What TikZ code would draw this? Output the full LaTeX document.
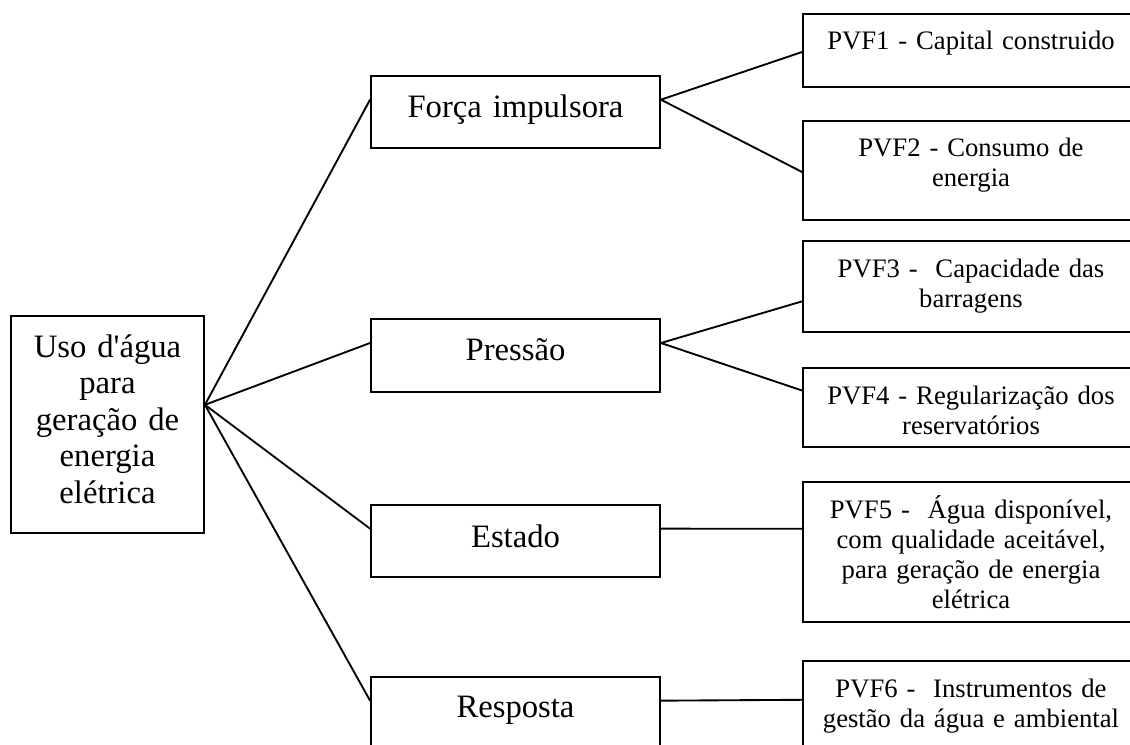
\documentclass[tikz,border=0pt]{standalone}
\usepackage{fontspec}
\setmainfont{Liberation Serif}[Ligatures=TeXOff]
\usetikzlibrary{calc,fit}
\begin{document}
\begin{tikzpicture}[x=0.75pt,y=-0.75pt,
  box/.style={draw, line width=1.4pt, rectangle, inner sep=0pt},
  conn/.style={line width=1.4pt},
  big/.style={font=\fontsize{24.5}{27.4}\selectfont, inner sep=0pt, align=center, text width=150pt, anchor=base},
  mid/.style={big, text width=210pt},
  small/.style={font=\fontsize{20}{22.5}\selectfont, inner sep=0pt, align=center, text width=247.5pt, anchor=base}]
\useasboundingbox (0,0) rectangle (1130,745);
\clip (0,0) rectangle (1130,745);
% boxes
\node[box, fit={(11,316) (204,533)}] (root) {};
\node[box, fit={(371,76) (660,148)}] (forca) {};
\node[box, fit={(371,319) (660,392)}] (pressao) {};
\node[box, fit={(371,505) (660,577)}] (estado) {};
\node[box, fit={(371,677) (660,749)}] (resposta) {};
\node[box, fit={(803,14) (1139,87)}] (p1) {};
\node[box, fit={(803,121) (1139,220)}] (p2) {};
\node[box, fit={(803,241) (1139,332)}] (p3) {};
\node[box, fit={(803,368) (1139,447)}] (p4) {};
\node[box, fit={(803,482) (1139,622)}] (p5) {};
\node[box, fit={(803,661) (1139,761)}] (p6) {};
% texts
\node[big] (troot) at (107.5,357) {Uso d'água\\para\\geração de\\energia\\elétrica};
\node[mid] (tforca) at (515.5,118) {Força impulsora};
\node[mid] (tpressao) at (515.5,360) {Pressão};
\node[mid] (testado) at (515.5,547) {Estado};
\node[mid] (tresposta) at (515.5,717) {Resposta};
\node[small] (tp1) at (971,50) {PVF1 - Capital construido};
\node[small] (tp2) at (971,157) {PVF2 - Consumo de\\energia};
\node[small] (tp3) at (971,277) {PVF3 -~ Capacidade das\\barragens};
\node[small] (tp4) at (971,404) {PVF4 - Regularização dos\\reservatórios};
\node[small] (tp5) at (971,518) {PVF5 -~ Água disponível,\\com qualidade aceitável,\\para geração de energia\\elétrica};
\node[small] (tp6) at (971,697) {PVF6 -~ Instrumentos de\\gestão da água e ambiental};
% connection points
\coordinate (j0) at ($(root.north east)!0.41!(root.south east)$);
\foreach \n in {forca,pressao,estado,resposta}{
  \coordinate (\n-l) at ($(\n.north west)!0.333!(\n.south west)$);
  \coordinate (\n-r) at ($(\n.north east)!0.333!(\n.south east)$);
}
\coordinate (p1-l) at ($(p1.north west)!0.52!(p1.south west)$);
\coordinate (p2-l) at ($(p2.north west)!0.515!(p2.south west)$);
\coordinate (p3-l) at ($(p3.north west)!0.66!(p3.south west)$);
\coordinate (p4-l) at ($(p4.north west)!0.29!(p4.south west)$);
\coordinate (p5-l) at ($(p5.north west)!0.336!(p5.south west)$);
\coordinate (p6-l) at ($(p6.north west)!0.39!(p6.south west)$);
% connectors
\draw[conn] (j0) -- (forca-l);
\draw[conn] (j0) -- (pressao-l);
\draw[conn] (j0) -- (estado-l);
\draw[conn] (j0) -- (resposta-l);
\draw[conn] (forca-r) -- (p1-l);
\draw[conn] (forca-r) -- (p2-l);
\draw[conn] (pressao-r) -- (p3-l);
\draw[conn] (pressao-r) -- (p4-l);
\draw[conn] (estado-r) -- (p5-l);
\draw[conn] (resposta-r) -- (p6-l);
\end{tikzpicture}
\end{document}
